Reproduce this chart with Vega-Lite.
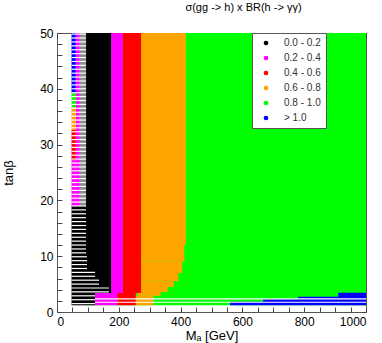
{
  "$schema": "https://vega.github.io/schema/vega-lite/v6.json",
  "width": 309,
  "height": 279,
  "autosize": {"type": "none"},
  "padding": {"left": 57, "top": 33, "right": 16, "bottom": 31},
  "title": {"text": "σ(gg -> h) x BR(h -> γγ)", "font": "Liberation Sans", "fontSize": 11, "fontWeight": "normal", "color": "#000", "anchor": "middle", "dx": 32, "offset": 14},
  "config": {
    "view": {"stroke": "#555", "strokeWidth": 1},
    "axis": {"grid": false, "domain": false, "tickColor": "#444", "labelFont": "Liberation Sans", "labelFontSize": 12, "labelColor": "#000", "titleFont": "Liberation Sans", "titleFontSize": 13, "titleFontWeight": "normal", "titleColor": "#000"}
  },
  "datasets": {
    "regions": [
      {"x": 94, "x2": 1000, "y": 1.2, "y2": 50, "c": "0.8 - 1.0"},
      {"x": 560, "x2": 667, "y": 1.2, "y2": 1.85, "c": "> 1.0"},
      {"x": 667, "x2": 780, "y": 1.2, "y2": 2.3, "c": "> 1.0"},
      {"x": 780, "x2": 910, "y": 1.2, "y2": 2.75, "c": "> 1.0"},
      {"x": 910, "x2": 1000, "y": 1.2, "y2": 3.45, "c": "> 1.0"},
      {"x": 272, "x2": 417, "y": 12, "y2": 50, "c": "0.6 - 0.8"},
      {"x": 272, "x2": 412, "y": 9, "y2": 12, "c": "0.6 - 0.8"},
      {"x": 272, "x2": 405, "y": 7, "y2": 9, "c": "0.6 - 0.8"},
      {"x": 272, "x2": 393, "y": 5.5, "y2": 7, "c": "0.6 - 0.8"},
      {"x": 272, "x2": 378, "y": 4.5, "y2": 5.5, "c": "0.6 - 0.8"},
      {"x": 272, "x2": 358, "y": 3.6, "y2": 4.5, "c": "0.6 - 0.8"},
      {"x": 260, "x2": 335, "y": 2.9, "y2": 3.6, "c": "0.6 - 0.8"},
      {"x": 250, "x2": 312, "y": 1.2, "y2": 2.9, "c": "0.6 - 0.8"},
      {"x": 213, "x2": 272, "y": 3.4, "y2": 50, "c": "0.4 - 0.6"},
      {"x": 195, "x2": 255, "y": 1.2, "y2": 3.4, "c": "0.4 - 0.6"},
      {"x": 175, "x2": 213, "y": 3.4, "y2": 50, "c": "0.2 - 0.4"},
      {"x": 123, "x2": 195, "y": 1.2, "y2": 3.4, "c": "0.2 - 0.4"},
      {"x": 94, "x2": 175, "y": 3.4, "y2": 50, "c": "0.0 - 0.2"},
      {"x": 47, "x2": 123, "y": 1.2, "y2": 3.4, "c": "0.0 - 0.2"},
      {"x": 47, "x2": 94, "y": 3.4, "y2": 19, "c": "0.0 - 0.2"},
      {"x": 47, "x2": 61, "y": 39.2, "y2": 50, "c": "> 1.0"},
      {"x": 47, "x2": 61, "y": 36.7, "y2": 39.2, "c": "0.8 - 1.0"},
      {"x": 47, "x2": 61, "y": 32.6, "y2": 36.7, "c": "0.6 - 0.8"},
      {"x": 47, "x2": 61, "y": 27.2, "y2": 32.6, "c": "0.4 - 0.6"},
      {"x": 47, "x2": 61, "y": 19, "y2": 27.2, "c": "0.2 - 0.4"},
      {"x": 61, "x2": 74, "y": 19, "y2": 50, "c": "0.2 - 0.4"}
    ],
    "texture": [
      {"x": 74, "x2": 94, "y": 19, "y2": 50}
    ],
    "stripes": [
      {"y": 1.5, "x": 47, "x2": 123},
      {"y": 1.75, "x": 123, "x2": 1000},
      {"y": 2.2, "x": 47, "x2": 123},
      {"y": 2.35, "x": 123, "x2": 1000},
      {"y": 2.9, "x": 47, "x2": 123},
      {"y": 3.6, "x": 47, "x2": 168},
      {"y": 4.3, "x": 47, "x2": 168},
      {"y": 5.0, "x": 47, "x2": 136},
      {"y": 5.7, "x": 47, "x2": 136},
      {"y": 6.4, "x": 47, "x2": 123},
      {"y": 7.1, "x": 47, "x2": 123},
      {"y": 7.8, "x": 47, "x2": 97},
      {"y": 8.5, "x": 47, "x2": 97},
      {"y": 9.2, "x": 47, "x2": 97},
      {"y": 9.9, "x": 47, "x2": 97},
      {"y": 10.6, "x": 47, "x2": 94},
      {"y": 11.3, "x": 47, "x2": 94},
      {"y": 12.0, "x": 47, "x2": 94},
      {"y": 12.7, "x": 47, "x2": 94},
      {"y": 13.4, "x": 47, "x2": 94},
      {"y": 14.1, "x": 47, "x2": 94},
      {"y": 14.8, "x": 47, "x2": 94},
      {"y": 15.5, "x": 47, "x2": 94},
      {"y": 16.2, "x": 47, "x2": 94},
      {"y": 16.9, "x": 47, "x2": 94},
      {"y": 17.6, "x": 47, "x2": 94},
      {"y": 18.3, "x": 47, "x2": 94},
      {"y": 19.0, "x": 47, "x2": 94},
      {"y": 19.7, "x": 47, "x2": 94},
      {"y": 20.4, "x": 47, "x2": 94},
      {"y": 21.1, "x": 47, "x2": 94},
      {"y": 21.8, "x": 47, "x2": 94},
      {"y": 22.5, "x": 47, "x2": 94},
      {"y": 23.2, "x": 47, "x2": 94},
      {"y": 23.9, "x": 47, "x2": 94},
      {"y": 24.6, "x": 47, "x2": 94},
      {"y": 25.3, "x": 47, "x2": 94},
      {"y": 26.0, "x": 47, "x2": 94},
      {"y": 26.7, "x": 47, "x2": 94},
      {"y": 27.4, "x": 47, "x2": 94},
      {"y": 28.1, "x": 47, "x2": 94},
      {"y": 28.8, "x": 47, "x2": 94},
      {"y": 29.5, "x": 47, "x2": 94},
      {"y": 30.2, "x": 47, "x2": 94},
      {"y": 30.9, "x": 47, "x2": 94},
      {"y": 31.6, "x": 47, "x2": 94},
      {"y": 32.3, "x": 47, "x2": 94},
      {"y": 33.0, "x": 47, "x2": 94},
      {"y": 33.7, "x": 47, "x2": 94},
      {"y": 34.4, "x": 47, "x2": 94},
      {"y": 35.1, "x": 47, "x2": 94},
      {"y": 35.8, "x": 47, "x2": 94},
      {"y": 36.5, "x": 47, "x2": 94},
      {"y": 37.2, "x": 47, "x2": 94},
      {"y": 37.9, "x": 47, "x2": 94},
      {"y": 38.6, "x": 47, "x2": 94},
      {"y": 39.3, "x": 47, "x2": 94},
      {"y": 40.0, "x": 47, "x2": 94},
      {"y": 40.7, "x": 47, "x2": 94},
      {"y": 41.4, "x": 47, "x2": 94},
      {"y": 42.1, "x": 47, "x2": 94},
      {"y": 42.8, "x": 47, "x2": 94},
      {"y": 43.5, "x": 47, "x2": 94},
      {"y": 44.2, "x": 47, "x2": 94},
      {"y": 44.9, "x": 47, "x2": 94},
      {"y": 45.6, "x": 47, "x2": 94},
      {"y": 46.3, "x": 47, "x2": 94},
      {"y": 47.0, "x": 47, "x2": 94},
      {"y": 47.7, "x": 47, "x2": 94},
      {"y": 48.4, "x": 47, "x2": 94},
      {"y": 49.1, "x": 47, "x2": 94},
      {"y": 49.8, "x": 47, "x2": 94}
    ]
  },
  "layer": [
    {
      "data": {"name": "regions"},
      "mark": {"type": "rect"},
      "encoding": {
        "x": {"field": "x", "type": "quantitative", "scale": {"domain": [0, 1000], "nice": false}, "title": "Mₐ [GeV]",
          "axis": {"values": [0, 50, 100, 150, 200, 250, 300, 350, 400, 450, 500, 550, 600, 650, 700, 750, 800, 850, 900, 950, 1000], "labelExpr": "datum.value % 200 === 0 ? '' + datum.value : ''", "tickSize": -5, "labelPadding": 9, "titlePadding": 2}},
        "x2": {"field": "x2"},
        "y": {"field": "y", "type": "quantitative", "scale": {"domain": [0, 50], "nice": false}, "title": "tanβ",
          "axis": {"values": [0, 2, 4, 6, 8, 10, 12, 14, 16, 18, 20, 22, 24, 26, 28, 30, 32, 34, 36, 38, 40, 42, 44, 46, 48, 50], "labelExpr": "datum.value % 10 === 0 ? datum.label : ''", "tickSize": -5, "labelPadding": 9, "titlePadding": 24}},
        "y2": {"field": "y2"},
        "color": {"field": "c", "type": "nominal",
          "scale": {"domain": ["0.0 - 0.2", "0.2 - 0.4", "0.4 - 0.6", "0.6 - 0.8", "0.8 - 1.0", "> 1.0"], "range": ["#000000", "#ff00ff", "#ff0000", "#ffa500", "#00ff00", "#0000ff"]},
          "legend": {"title": null, "orient": "none", "legendX": 195, "legendY": 0, "fillColor": "white", "strokeColor": "#555", "padding": 5, "cornerRadius": 0, "symbolType": "circle", "symbolSize": 22, "symbolStrokeWidth": 0, "symbolOffset": 4, "labelOffset": 13, "labelFont": "Liberation Sans", "labelFontSize": 10, "labelColor": "#333", "rowPadding": 5}}
      }
    },
    {
      "data": {"name": "texture"},
      "mark": {"type": "rect", "color": "#8c8c8c"},
      "encoding": {
        "x": {"field": "x", "type": "quantitative", "axis": null},
        "x2": {"field": "x2"},
        "y": {"field": "y", "type": "quantitative", "axis": null},
        "y2": {"field": "y2"}
      }
    },
    {
      "data": {"name": "stripes"},
      "mark": {"type": "rule", "color": "white", "strokeWidth": 1.2},
      "encoding": {
        "x": {"field": "x", "type": "quantitative", "axis": null},
        "x2": {"field": "x2"},
        "y": {"field": "y", "type": "quantitative", "axis": null}
      }
    },
    {
      "data": {"values": [{"x": 0, "y": 0}]},
      "mark": {"type": "point", "opacity": 0},
      "encoding": {
        "x": {"field": "x", "type": "quantitative", "title": null,
          "axis": {"orient": "top", "labels": false, "values": [0, 50, 100, 150, 200, 250, 300, 350, 400, 450, 500, 550, 600, 650, 700, 750, 800, 850, 900, 950, 1000], "tickSize": -5}},
        "y": {"field": "y", "type": "quantitative", "title": null,
          "axis": {"orient": "right", "labels": false, "values": [0, 2, 4, 6, 8, 10, 12, 14, 16, 18, 20, 22, 24, 26, 28, 30, 32, 34, 36, 38, 40, 42, 44, 46, 48, 50], "tickSize": -5}}
      }
    }
  ],
  "resolve": {"axis": {"x": "independent", "y": "independent"}}
}
